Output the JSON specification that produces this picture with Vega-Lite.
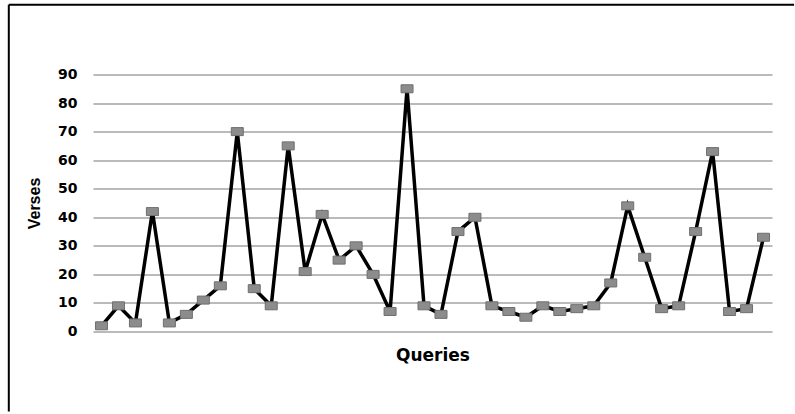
{
  "$schema": "https://vega.github.io/schema/vega-lite/v6.json",
  "width": 679,
  "height": 257,
  "padding": {"left": 7, "top": 3.5, "right": 0, "bottom": 0},
  "background": "white",
  "config": {
    "view": {"stroke": null},
    "axisX": {
      "title": "Queries",
      "labels": false,
      "ticks": false,
      "domain": false,
      "grid": false,
      "titleFont": "DejaVu Sans",
      "titleFontSize": 17,
      "titleFontWeight": "bold",
      "titleColor": "black",
      "titlePadding": 16
    },
    "axisY": {
      "tickCount": 9,
      "ticks": false,
      "domain": false,
      "grid": true,
      "gridColor": "#a3a3a3",
      "gridWidth": 1.5,
      "labelFont": "DejaVu Sans",
      "labelFontSize": 14,
      "labelFontWeight": "bold",
      "labelColor": "black",
      "labelPadding": 16,
      "labelOverlap": false,
      "titleFont": "Liberation Sans Narrow, Liberation Sans",
      "titleFontSize": 16,
      "titleFontWeight": "bold",
      "titleColor": "black",
      "titlePadding": 15
    }
  },
  "datasets": {
    "verses": [
      {"query": 1, "verses": 2}, {"query": 2, "verses": 9}, {"query": 3, "verses": 3},
      {"query": 4, "verses": 42}, {"query": 5, "verses": 3}, {"query": 6, "verses": 6},
      {"query": 7, "verses": 11}, {"query": 8, "verses": 16}, {"query": 9, "verses": 70},
      {"query": 10, "verses": 15}, {"query": 11, "verses": 9}, {"query": 12, "verses": 65},
      {"query": 13, "verses": 21}, {"query": 14, "verses": 41}, {"query": 15, "verses": 25},
      {"query": 16, "verses": 30}, {"query": 17, "verses": 20}, {"query": 18, "verses": 7},
      {"query": 19, "verses": 85}, {"query": 20, "verses": 9}, {"query": 21, "verses": 6},
      {"query": 22, "verses": 35}, {"query": 23, "verses": 40}, {"query": 24, "verses": 9},
      {"query": 25, "verses": 7}, {"query": 26, "verses": 5}, {"query": 27, "verses": 9},
      {"query": 28, "verses": 7}, {"query": 29, "verses": 8}, {"query": 30, "verses": 9},
      {"query": 31, "verses": 17}, {"query": 32, "verses": 44}, {"query": 33, "verses": 26},
      {"query": 34, "verses": 8}, {"query": 35, "verses": 9}, {"query": 36, "verses": 35},
      {"query": 37, "verses": 63}, {"query": 38, "verses": 7}, {"query": 39, "verses": 8},
      {"query": 40, "verses": 33}
    ]
  },
  "layer": [
    {
      "data": {"name": "verses"},
      "mark": {"type": "line", "color": "black", "strokeWidth": 3.5, "strokeJoin": "miter"},
      "encoding": {
        "x": {
          "field": "query",
          "type": "quantitative",
          "title": "Queries",
          "scale": {"domain": [0.5, 40.5], "nice": false, "zero": false}
        },
        "y": {
          "field": "verses",
          "type": "quantitative",
          "title": "Verses",
          "scale": {"domain": [0, 90], "nice": false}
        }
      }
    },
    {
      "data": {"name": "verses"},
      "mark": {
        "type": "point",
        "shape": "M-1,-0.667H1V0.667H-1Z",
        "size": 144,
        "filled": true,
        "fill": "#8c8c8c",
        "stroke": "#6f6f6f",
        "strokeWidth": 1,
        "opacity": 1
      },
      "encoding": {
        "x": {"field": "query", "type": "quantitative", "title": "Queries"},
        "y": {"field": "verses", "type": "quantitative", "title": "Verses"}
      }
    },
    {
      "data": {"values": [{}]},
      "mark": {"type": "rule", "color": "black", "strokeWidth": 2},
      "encoding": {
        "x": {"datum": -4.46, "type": "quantitative", "title": "Queries"},
        "x2": {"datum": 41.8},
        "y": {"datum": 114.4, "type": "quantitative", "title": "Verses"}
      }
    },
    {
      "data": {"values": [{}]},
      "mark": {"type": "rule", "color": "black", "strokeWidth": 2},
      "encoding": {
        "x": {"datum": -4.46, "type": "quantitative", "title": "Queries"},
        "y": {"datum": 114.4, "type": "quantitative", "title": "Verses"},
        "y2": {"datum": -28}
      }
    }
  ]
}
